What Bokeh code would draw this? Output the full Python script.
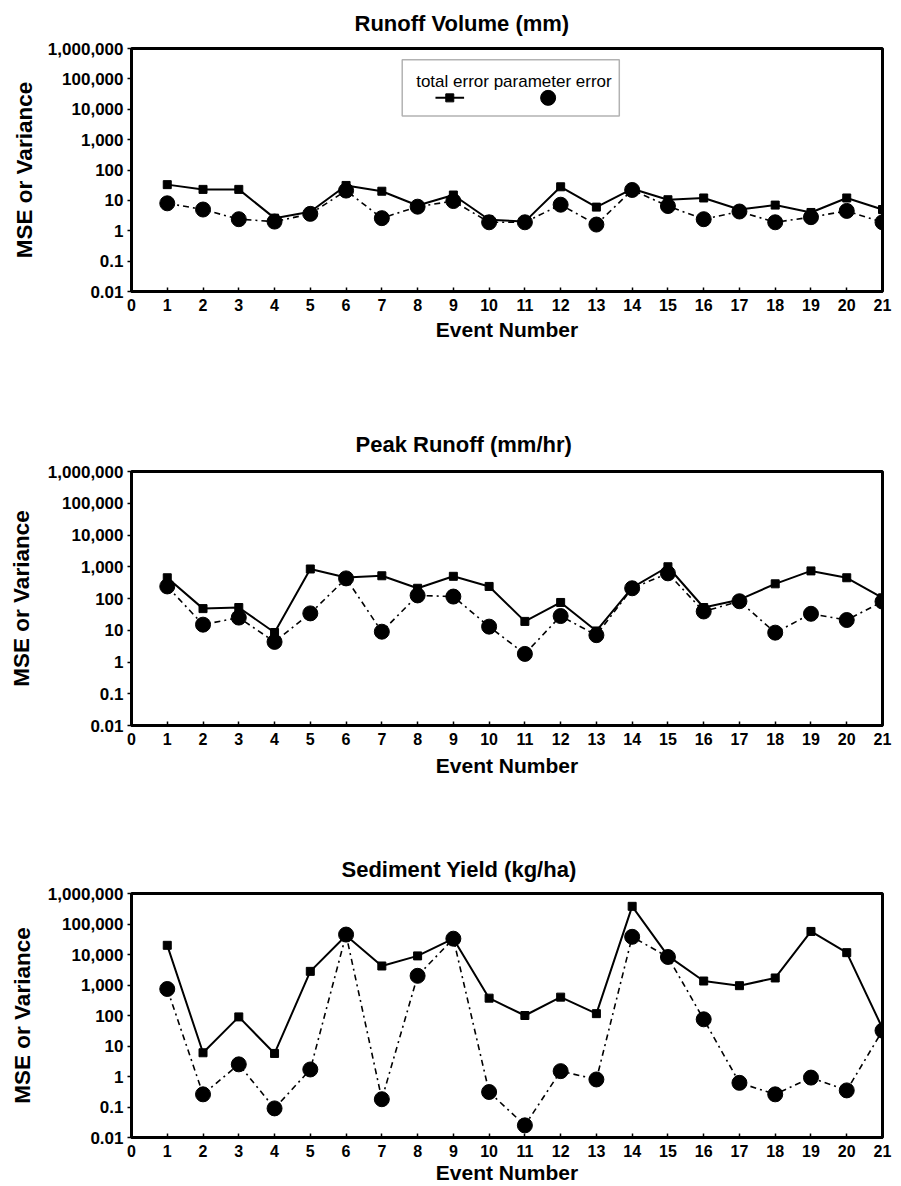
from bokeh.plotting import figure
from bokeh.layouts import column
from bokeh.models import (FixedTicker, CustomJSTickFormatter, Range1d,
                          BoxAnnotation, Label)
from bokeh.embed import file_html
from bokeh.resources import INLINE

# ---------------- data ----------------
events = list(range(1, 22))
x_ticks = list(range(0, 22))
y_ticks = [0.01, 0.1, 1, 10, 100, 1000, 10000, 100000, 1000000]
y_tick_labels = ["0.01", "0.1", "1", "10", "100", "1,000", "10,000",
                 "100,000", "1,000,000"]

titles = ["Runoff Volume (mm)", "Peak Runoff (mm/hr)", "Sediment Yield (kg/ha)"]
series_names = ["total error", "parameter error"]
x_label = "Event Number"
y_label = "MSE or Variance"

runoff_total = [33, 23, 23, 2.6, 4.2, 31, 20, 6.8, 15, 2.3, 2.0, 28, 6.0,
                24, 10.5, 12, 5.0, 7.0, 4.0, 12, 5.0]
runoff_param = [8, 5, 2.4, 2.0, 3.6, 21, 2.6, 6.2, 9.5, 1.9, 1.9, 7.2, 1.6,
                22, 6.5, 2.4, 4.3, 1.9, 2.8, 4.5, 1.9]

peak_total = [450, 48, 52, 8.5, 850, 460, 520, 210, 500, 240, 19, 75, 9.5,
              220, 1000, 52, 92, 290, 740, 450, 105]
peak_param = [240, 15, 25, 4.3, 34, 430, 9, 125, 115, 13, 1.8, 28, 7,
              210, 620, 39, 82, 8.4, 33, 21, 80]

sed_total = [20000, 6, 90, 5.7, 2800, 42000, 4200, 9000, 33000, 370, 100,
             400, 115, 380000, 9000, 1350, 950, 1700, 57000, 11500, 38]
sed_param = [740, 0.26, 2.5, 0.09, 1.7, 45000, 0.18, 2000, 33000, 0.31,
             0.025, 1.5, 0.8, 38000, 8300, 75, 0.62, 0.26, 0.92, 0.35, 32]

FONT = "Liberation Sans"


def make_panel(title, total, param, h, b_top, b_bottom, b_left, b_right,
               title_offset, title_standoff, title_valign, xtick_standoff,
               xlab_standoff, ylab_standoff):
    p = figure(width=901, height=h, y_axis_type="log",
               x_range=Range1d(0, 21), y_range=Range1d(0.01, 1e6),
               output_backend="svg", toolbar_location=None,
               min_border_top=b_top, min_border_bottom=b_bottom,
               min_border_left=b_left, min_border_right=b_right,
               background_fill_color="white", border_fill_color="white")
    p.grid.visible = False
    p.outline_line_color = "black"
    p.outline_line_width = 3

    p.title.text = title
    p.title.align = "left"
    p.title.vertical_align = title_valign
    p.title.offset = title_offset
    p.title.standoff = title_standoff
    p.title.text_font = FONT
    p.title.text_font_size = "22px"
    p.title.text_font_style = "bold"
    p.title.text_color = "black"

    # x axis
    xa = p.xaxis[0]
    xa.ticker = FixedTicker(ticks=x_ticks)
    xa.axis_label = x_label
    xa.axis_label_text_font = FONT
    xa.axis_label_text_font_size = "21px"
    xa.axis_label_text_font_style = "bold"
    xa.axis_label_text_color = "black"
    xa.axis_label_standoff = xlab_standoff
    xa.major_label_text_font = FONT
    xa.major_label_text_font_size = "16px"
    xa.major_label_text_font_style = "bold"
    xa.major_label_text_color = "black"
    xa.major_label_standoff = xtick_standoff
    xa.major_tick_in = 4
    xa.major_tick_out = 0
    xa.major_tick_line_width = 1.5
    xa.major_tick_line_color = "black"
    xa.minor_tick_line_color = None
    xa.axis_line_width = 3
    xa.axis_line_color = "black"

    # y axis
    ya = p.yaxis[0]
    ya.ticker = FixedTicker(ticks=y_ticks)
    ya.formatter = CustomJSTickFormatter(
        args=dict(labels=y_tick_labels),
        code="const i = Math.round(Math.log10(tick)) + 2; return labels[i];")
    ya.axis_label = y_label
    ya.axis_label_text_font = FONT
    ya.axis_label_text_font_size = "22.5px"
    ya.axis_label_text_font_style = "bold"
    ya.axis_label_text_color = "black"
    ya.axis_label_standoff = ylab_standoff
    ya.major_label_text_font = FONT
    ya.major_label_text_font_size = "17px"
    ya.major_label_text_font_style = "bold"
    ya.major_label_text_color = "black"
    ya.major_label_standoff = 4
    ya.major_tick_in = 0
    ya.major_tick_out = 4
    ya.major_tick_line_width = 1.5
    ya.major_tick_line_color = "black"
    ya.minor_tick_line_color = None
    ya.axis_line_width = 3
    ya.axis_line_color = "black"

    p.line(events, total, line_color="black", line_width=2)
    p.line(events, param, line_color="black", line_width=1.6,
           line_dash="6 4 2 4")
    p.scatter(events, total, marker="square", size=8, fill_color="black",
              line_color="black")
    p.scatter(events, param, marker="circle", size=15, fill_color="black",
              line_color="black")
    return p


p1 = make_panel(titles[0], runoff_total, runoff_param, 415, 48, 124, 128, 16,
                223, 21, "top", 7, 4, 8)
p2 = make_panel(titles[1], peak_total, peak_param, 420, 56, 110, 131, 9,
                224, 29, "bottom", 7, 6, 11)
p3 = make_panel(titles[2], sed_total, sed_param, 351, 58, 49, 126, 19,
                210, 23, "bottom", 7, 1, 10)

# legend box in panel 1
p1.add_layout(BoxAnnotation(left=7.57, right=13.64, bottom=10 ** 3.78,
                            top=10 ** 5.63, fill_color="white", fill_alpha=1,
                            line_color="black", line_width=1.5,
                            level="underlay"))
p1.add_layout(Label(x=7.96, y=10 ** 4.93, text=" ".join(series_names),
                    text_font=FONT, text_font_size="17px",
                    text_baseline="middle", text_color="black"))
p1.segment(x0=[8.5], y0=[10 ** 4.375], x1=[9.3], y1=[10 ** 4.375],
           line_color="black", line_width=2)
p1.scatter([8.9], [10 ** 4.375], marker="square", size=8,
           fill_color="black", line_color="black")
p1.scatter([11.65], [10 ** 4.375], marker="circle", size=15,
           fill_color="black", line_color="black")

layout = column(p1, p2, p3, spacing=0)
open("out.html", "w").write(file_html(layout, INLINE))
